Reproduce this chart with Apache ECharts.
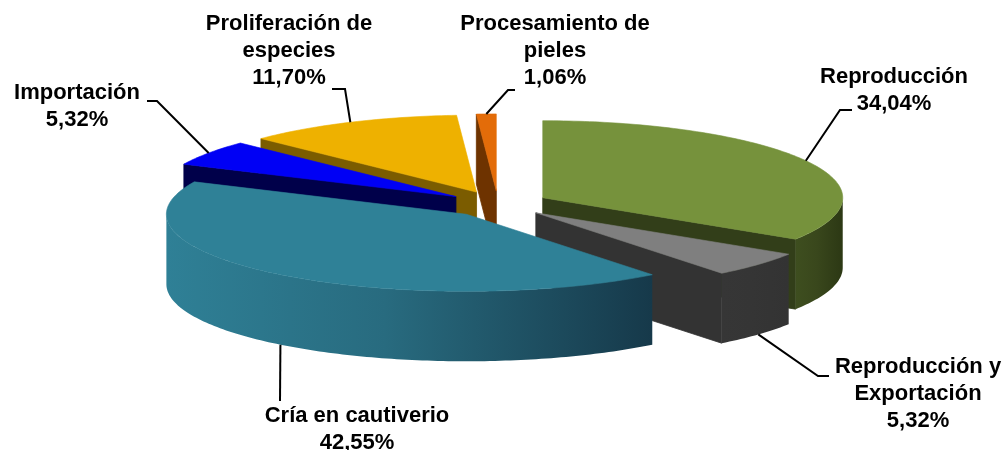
<!DOCTYPE html>
<html>
<head>
<meta charset="utf-8">
<script src="https://cdn.jsdelivr.net/npm/echarts@6/dist/echarts.min.js"></script>
<style>
html, body { margin: 0; padding: 0; background: #fff; }
#chart { width: 1007px; height: 450px; }
</style>
</head>
<body>
<div id="chart"></div>
<script>
// datos del gráfico (porcentajes)
var categories = ['Reproducción', 'Reproducción y Exportación', 'Cría en cautiverio', 'Importación', 'Proliferación de especies', 'Procesamiento de pieles'];
var shares = [34.04, 5.32, 42.55, 5.32, 11.70, 1.06];
// cómo se parte el nombre en líneas en la etiqueta
var labelNames = [['Reproducción'], ['Reproducción y', 'Exportación'], ['Cría en cautiverio'], ['Importación'], ['Proliferación de', 'especies'], ['Procesamiento de', 'pieles']];

// colores: cara superior, paredes de corte, pared exterior
var topColors = ['#76923c', '#7f7f7f', '#2f8197', '#0000f5', '#eeb100', '#e36c09'];
var cutColors = ['#323e19', '#333333', '#1f5666', '#00004a', '#7b5c00', '#6e3300'];
var rimColors = [
    ['#3e4e1f', '#2c3814'],
    ['#363636', '#333333'],
    ['#2f8096', '#16394a'],
    ['#000060', '#00003a'],
    ['#8a6800', '#6b5000'],
    ['#7a3a00', '#5e2b00']
];

// geometría del pastel 3D
var geo = { cx: 498, cy: 204, rx: 300, ry: 77, depth: 70, explode: 0.17 };

// posición de las etiquetas y del tramo horizontal de la línea guía
var labelLayout = [
    { x: 894, y: 90, stub: [[852, 110], [840, 110]] },
    { x: 918, y: 394, stub: [[829, 376], [818, 376]] },
    { x: 357, y: 429, stub: [[280, 401], [280, 401]] },
    { x: 77, y: 106, stub: [[147, 101], [157, 101]] },
    { x: 289, y: 51, stub: [[332, 89], [345, 89]] },
    { x: 555, y: 51, stub: [[515, 90], [508, 90]] }
];

var total = shares.reduce(function (a, b) { return a + b; }, 0);
var startAngles = [];
var acc = 0;
shares.forEach(function (v) { startAngles.push(acc / total * Math.PI * 2); acc += v; });

// orden de dibujo: de atrás hacia adelante
var drawOrder = shares.map(function (v, i) { return i; }).sort(function (a, b) {
    var ma = startAngles[a] + shares[a] / total * Math.PI;
    var mb = startAngles[b] + shares[b] / total * Math.PI;
    return -Math.cos(ma) - (-Math.cos(mb));
});

function fmt(v) {
    return v.toFixed(2).replace('.', ',') + '%';
}

function renderSlice(params, api) {
    var i = params.dataIndex;
    var v = api.value(0);
    var a0 = startAngles[i];
    var a1 = a0 + v / total * Math.PI * 2;
    var mid = (a0 + a1) / 2;
    var ox = geo.explode * geo.rx * Math.sin(mid);
    var oy = -geo.explode * geo.ry * Math.cos(mid);
    function pt(t, r, z) {
        return [geo.cx + ox + r * geo.rx * Math.sin(t), geo.cy + oy - r * geo.ry * Math.cos(t) + z];
    }
    function arc(from, to, z) {
        var pts = [];
        var n = Math.max(2, Math.ceil((to - from) / (Math.PI / 180)));
        for (var k = 0; k <= n; k++) pts.push(pt(from + (to - from) * k / n, 1, z));
        return pts;
    }
    var base = drawOrder.indexOf(i) * 10;
    var children = [];
    var apexT = pt(0, 0, 0), apexB = pt(0, 0, geo.depth);

    // paredes de corte visibles
    if (Math.sin(a0) < -1e-6) {
        children.push({
            type: 'polygon', z2: base + 1,
            shape: { points: [apexT, pt(a0, 1, 0), pt(a0, 1, geo.depth), apexB] },
            style: { fill: cutColors[i], stroke: cutColors[i], lineWidth: 0.8 }
        });
    }
    if (Math.sin(a1) > 1e-6) {
        children.push({
            type: 'polygon', z2: base + 1,
            shape: { points: [apexT, pt(a1, 1, 0), pt(a1, 1, geo.depth), apexB] },
            style: { fill: cutColors[i], stroke: cutColors[i], lineWidth: 0.8 }
        });
    }
    // pared exterior (mitad frontal)
    var w0 = Math.max(a0, Math.PI / 2), w1 = Math.min(a1, Math.PI * 1.5);
    if (w1 > w0) {
        var pts = arc(w0, w1, 0).concat(arc(w0, w1, geo.depth).reverse());
        var grad = new echarts.graphic.LinearGradient(0, 0, 1, 0, [
            { offset: 0, color: rimColors[i][0] },
            { offset: 0.45, color: echarts.color.lerp(0.3, rimColors[i]) },
            { offset: 1, color: rimColors[i][1] }
        ]);
        children.push({
            type: 'polygon', z2: base + 2,
            shape: { points: pts },
            style: { fill: grad }
        });
    }
    // cara superior
    children.push({
        type: 'polygon', z2: base + 3,
        shape: { points: [apexT].concat(arc(a0, a1, 0)) },
        style: { fill: topColors[i], stroke: topColors[i], lineWidth: 0.6 }
    });

    // etiqueta con línea guía
    var lay = labelLayout[i];
    var anchor = pt(mid, 1, Math.cos(mid) < 0 ? geo.depth : 0);
    children.push({
        type: 'polyline', z2: 199,
        shape: { points: [lay.stub[0], lay.stub[1], anchor] },
        style: { stroke: '#000', lineWidth: 2, fill: null }
    });
    children.push({
        type: 'text', z2: 200,
        style: {
            text: labelNames[i].concat([fmt(v)]).join('\n'),
            x: lay.x, y: lay.y,
            align: 'center', verticalAlign: 'middle',
            font: 'bold 22px "Liberation Sans", Arial, sans-serif',
            lineHeight: 27,
            fill: '#000'
        }
    });
    return { type: 'group', children: children };
}

var chart = echarts.init(document.getElementById('chart'));
var option = {
    animation: false,
    backgroundColor: '#fff',
    series: [{
        type: 'custom',
        coordinateSystem: 'none',
        renderItem: renderSlice,
        data: shares.map(function (v, i) { return { name: categories[i], value: [v] }; })
    }]
};
chart.setOption(option);
</script>
</body>
</html>
